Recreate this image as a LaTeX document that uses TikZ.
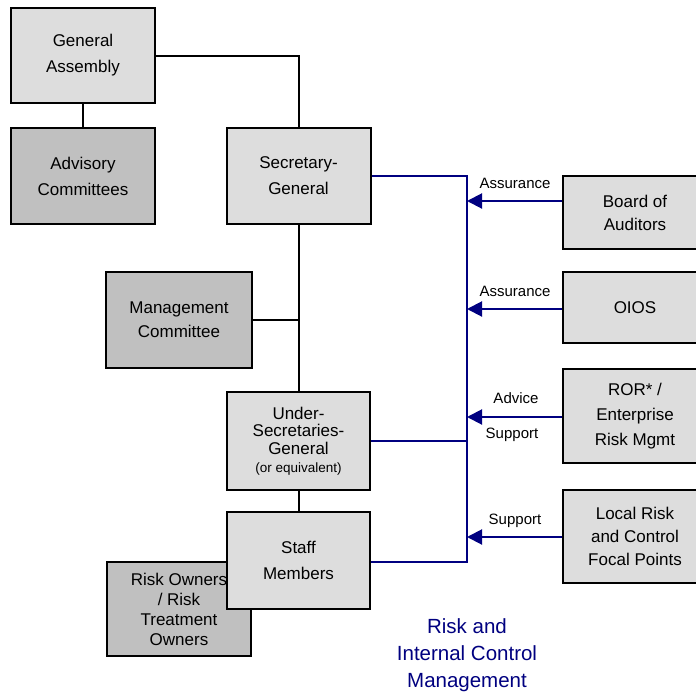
\documentclass[tikz,border=0pt]{standalone}
\usepackage{fontspec}
\setmainfont{Liberation Sans}
\usetikzlibrary{arrows.meta}
\definecolor{lightbox}{HTML}{DDDDDD}
\definecolor{darkbox}{HTML}{C0C0C0}
\definecolor{navyline}{HTML}{000080}
\tikzset{
  orgbox/.style={draw=black, line width=2pt, fill=lightbox, align=center, inner sep=2pt,
    font=\fontsize{17}{26}\selectfont},
  darkorg/.style={orgbox, fill=darkbox},
  blk/.style={draw=black, line width=2pt},
  blu/.style={draw=navyline, line width=2pt},
  bluarr/.style={blu, -{Triangle[length=15pt,width=15pt]}},
  lbl/.style={font=\fontsize{15}{18}\selectfont, inner sep=0pt}
}
\begin{document}
\begin{tikzpicture}[x=1pt,y=-1pt]
\clip (0,0) rectangle (696,696);
\fill[white] (0,0) rectangle (696,696);
% left column
\node[orgbox, minimum width=144pt, minimum height=95pt] (ga) at (83,55.5) {General\\Assembly};
\node[darkorg, minimum width=144pt, minimum height=96pt] (ac) at (83,176) {Advisory\\Committees};
\node[orgbox, minimum width=144pt, minimum height=96pt] (sg) at (298.5,176) {Secretary-\\General};
\node[darkorg, minimum width=146pt, minimum height=96pt, font=\fontsize{17}{24}\selectfont] (mc) at (179,320) {Management\\Committee};
\node[orgbox, minimum width=143pt, minimum height=98pt, font=\fontsize{17}{17.5}\selectfont] (usg) at (298.5,441) {Under-\\Secretaries-\\General\\[1pt]{\fontsize{13.5}{16}\selectfont (or equivalent)}};
\node[darkorg, minimum width=144pt, minimum height=94pt, font=\fontsize{17}{20}\selectfont] (ro) at (179,609) {Risk Owners\\/ Risk\\Treatment\\Owners};
\node[orgbox, minimum width=143pt, minimum height=97pt] (staff) at (298.5,560.5) {Staff\\Members};
% right column
\node[orgbox, minimum width=144pt, minimum height=73pt, font=\fontsize{17}{23}\selectfont] (boa) at (635,212.5) {Board of\\Auditors};
\node[orgbox, minimum width=144pt, minimum height=71pt] (oios) at (635,307.5) {OIOS};
\node[orgbox, minimum width=144pt, minimum height=94pt, font=\fontsize{17}{25}\selectfont] (ror) at (635,416) {ROR* /\\Enterprise\\Risk Mgmt};
\node[orgbox, minimum width=144pt, minimum height=93pt, font=\fontsize{17}{23}\selectfont] (lrc) at (635,536.5) {Local Risk\\and Control\\Focal Points};
% black connectors
\draw[blk] (ga.east) -| (sg.north);
\draw[blk] (ga.south) -- (ac.north);
\draw[blk] (sg.south) -- (usg.north);
\draw[blk] (mc.east) -- (mc.east -| sg.south);
\draw[blk] (usg.south) -- (staff.north);
% blue bus
\coordinate (bustop) at (467,176);
\coordinate (busbot) at (467,562);
\coordinate (b1) at (467,201);
\coordinate (b2) at (467,309);
\coordinate (b3) at (467,417);
\coordinate (b4) at (467,537);
\draw[blu] (sg.east) -- (bustop) -- (busbot) -- (busbot -| staff.east);
\draw[blu] (usg.east) -- (usg.east -| bustop);
\draw[bluarr] (boa.west |- b1) -- (b1);
\draw[bluarr] (oios.west |- b2) -- (b2);
\draw[bluarr] (ror.west |- b3) -- (b3);
\draw[bluarr] (lrc.west |- b4) -- (b4);
% labels
\node[lbl] (l1) at (515,183) {Assurance};
\node[lbl] (l2) at (515,291) {Assurance};
\node[lbl] (l3) at (516,398) {Advice};
\node[lbl] (l4) at (512,435) {Support};
\node[lbl] (l5) at (515,521) {Support};
\node[align=center, text=navyline, font=\fontsize{20.5}{27}\selectfont] (title) at (467,655) {Risk and\\Internal Control\\Management};
\end{tikzpicture}
\end{document}
